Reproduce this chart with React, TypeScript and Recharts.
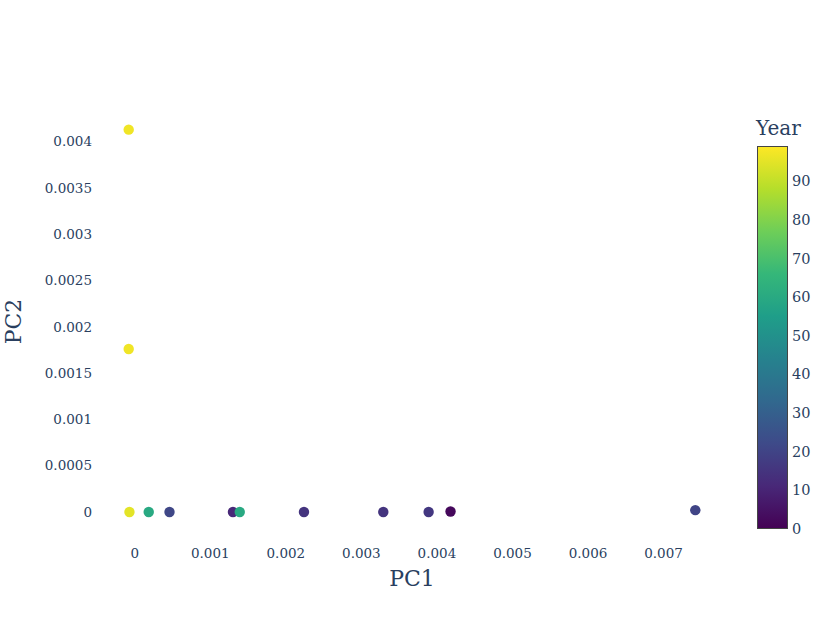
import React from 'react';
import { ScatterChart, Scatter, XAxis, YAxis, Cell } from 'recharts';

const pc1 = [-0.00008, -0.00008, -0.00007, 0.000185, 0.00046, 0.0013, 0.00139, 0.00224, 0.00329, 0.00389, 0.00418, 0.00742];
const pc2 = [0.00413, 0.00176, 0, 0, 0, 0, 0, 0, 0, 0, 0.000005, 0.00002];
const years = [97, 97, 95, 60, 21, 11, 60, 15, 15, 16, 2, 20];

const xTicks = [0, 0.001, 0.002, 0.003, 0.004, 0.005, 0.006, 0.007];
const yTicks = [0, 0.0005, 0.001, 0.0015, 0.002, 0.0025, 0.003, 0.0035, 0.004];
const cbTicks = [0, 10, 20, 30, 40, 50, 60, 70, 80, 90];
const yearMin = 0;
const yearMax = 99;

const VIRIDIS = ['#440154', '#482878', '#3e4a89', '#31688e', '#26828e', '#1f9e89', '#35b779', '#6ece58', '#b5de2b', '#fde725'];

function hexToRgb(h: string) {
  return [parseInt(h.slice(1, 3), 16), parseInt(h.slice(3, 5), 16), parseInt(h.slice(5, 7), 16)];
}
function viridis(t: number) {
  const c = Math.max(0, Math.min(1, t));
  const p = c * (VIRIDIS.length - 1);
  const i = Math.min(VIRIDIS.length - 2, Math.floor(p));
  const f = p - i;
  const a = hexToRgb(VIRIDIS[i]);
  const b = hexToRgb(VIRIDIS[i + 1]);
  const r = a.map((v, k) => Math.round(v + (b[k] - v) * f));
  return `rgb(${r[0]},${r[1]},${r[2]})`;
}

const data = pc1.map((x, i) => ({ pc1: x, pc2: pc2[i], year: years[i] }));

const FONT = '"DejaVu Serif", serif';
const TXT = '#2a3f5f';

const fmt = (v: number) => String(parseFloat(v.toFixed(5)));

const CB_X = 757.5;
const CB_TOP = 146.5;
const CB_BOTTOM = 528.5;
const CB_W = 30;
const cbY = (v: number) => CB_BOTTOM - ((v - yearMin) / (yearMax - yearMin)) * (CB_BOTTOM - CB_TOP);

const Dot = (props: any) => {
  const { cx, cy, fill } = props;
  return <circle cx={cx} cy={cy} r={5.2} fill={fill} />;
};

export default function App() {
  return (
    <div style={{ position: 'absolute', left: 0, top: 0, width: 830, height: 623, background: '#fff', fontFamily: FONT }}>
      <ScatterChart width={830} height={623} margin={{ top: 100, right: 106, bottom: 0, left: 0 }}>
        <XAxis
          type="number"
          dataKey="pc1"
          domain={[-0.00046, 0.0078]}
          ticks={xTicks}
          tickFormatter={fmt}
          axisLine={false}
          tickLine={false}
          tickSize={0}
          tickMargin={5}
          height={80}
          allowDataOverflow
          tick={{ fill: TXT, fontSize: 13.5, fontFamily: FONT }}
          label={{ value: 'PC1', position: 'insideTop', offset: 27, fill: TXT, fontSize: 22, fontFamily: FONT }}
        />
        <YAxis
          type="number"
          dataKey="pc2"
          domain={[-0.000335, 0.00445]}
          ticks={yTicks}
          tickFormatter={fmt}
          axisLine={false}
          tickLine={false}
          tickSize={0}
          tickMargin={8}
          width={100}
          allowDataOverflow
          tick={{ fill: TXT, fontSize: 13.5, fontFamily: FONT }}
          label={{ value: 'PC2', angle: -90, position: 'insideLeft', offset: 13, fill: TXT, fontSize: 22, fontFamily: FONT, style: { textAnchor: 'middle' } }}
        />
        <Scatter data={data} isAnimationActive={false} shape={<Dot />}>
          {data.map((d, i) => (
            <Cell key={i} fill={viridis((d.year - yearMin) / (yearMax - yearMin))} />
          ))}
        </Scatter>
      </ScatterChart>
      <svg width={830} height={623} style={{ position: 'absolute', left: 0, top: 0, pointerEvents: 'none' }}>
        <defs>
          <linearGradient id="cbgrad" x1="0" y1="1" x2="0" y2="0">
            {VIRIDIS.map((c, i) => (
              <stop key={i} offset={`${(i / (VIRIDIS.length - 1)) * 100}%`} stopColor={c} />
            ))}
          </linearGradient>
        </defs>
        <text x={756} y={135} fill={TXT} fontSize={20} fontFamily={FONT}>Year</text>
        <rect x={CB_X} y={CB_TOP} width={CB_W} height={CB_BOTTOM - CB_TOP} fill="url(#cbgrad)" stroke="#444" strokeWidth={1} />
        {cbTicks.map((t) => (
          <text key={t} x={792} y={cbY(t)} dy="0.36em" fill={TXT} fontSize={14.5} fontFamily={FONT}>{t}</text>
        ))}
      </svg>
    </div>
  );
}
